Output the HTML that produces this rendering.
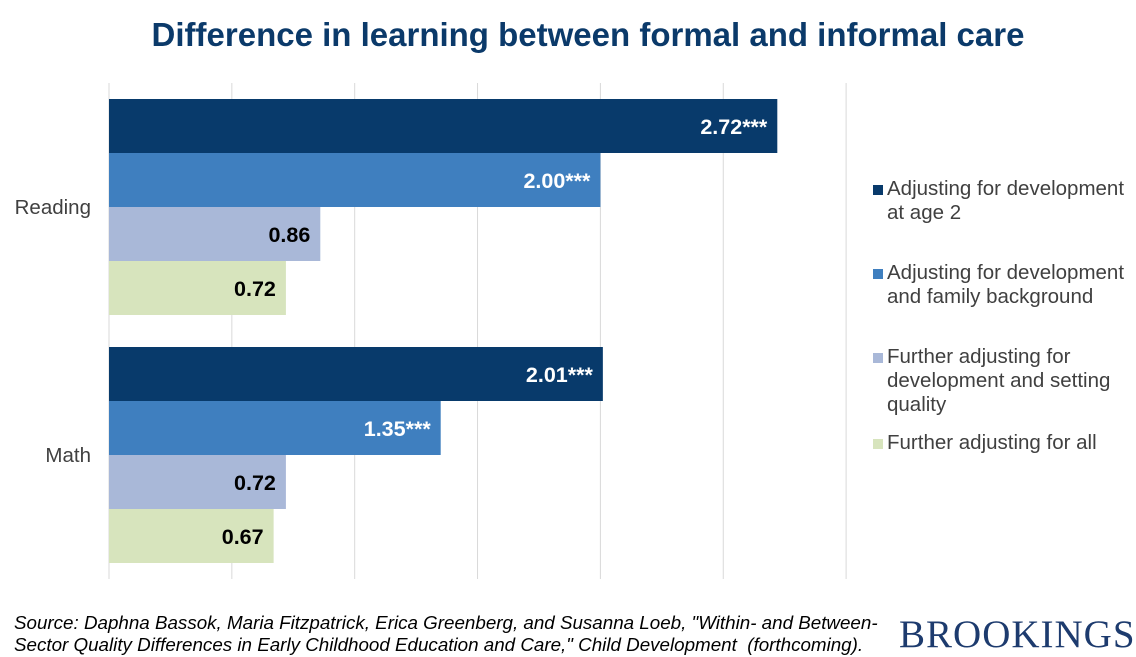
<!DOCTYPE html>
<html><head><meta charset="utf-8">
<style>
body{margin:0;width:1136px;height:656px;background:#fff;font-family:"Liberation Sans",Arial,sans-serif;overflow:hidden;position:relative}
#title{position:absolute;left:0;width:1176px;top:16px;text-align:center;font-size:33px;font-weight:bold;color:#0b3a6a}
.leg{position:absolute;left:873px;font-size:20.5px;color:#404040;line-height:24px;white-space:nowrap}
.leg span.sw{position:absolute;left:0;top:8px;width:10px;height:10px}
.leg div{margin-left:14px}
#source{position:absolute;left:14px;top:612px;font-size:18.8px;font-style:italic;color:#000;line-height:22px;white-space:nowrap}
#logo{position:absolute;left:899px;top:612px;font-family:"Liberation Serif",serif;font-size:39px;color:#1d3b6e;letter-spacing:1px}
</style></head><body>
<div id="title">Difference in learning between formal and informal care</div>
<svg id="chart" width="1136" height="656" style="position:absolute;left:0;top:0"></svg>
<div class="leg" style="top:177px"><span class="sw" style="background:#083a6b"></span><div>Adjusting for development<br>at age 2</div></div>
<div class="leg" style="top:261px"><span class="sw" style="background:#3f7fbf"></span><div>Adjusting for development<br>and family background</div></div>
<div class="leg" style="top:345px"><span class="sw" style="background:#a9b8d8"></span><div>Further adjusting for<br>development and setting<br>quality</div></div>
<div class="leg" style="top:431px"><span class="sw" style="background:#d7e4bd"></span><div>Further adjusting for all</div></div>
<div id="source">Source: Daphna Bassok, Maria Fitzpatrick, Erica Greenberg, and Susanna Loeb, "Within- and Between-<br>Sector Quality Differences in Early Childhood Education and Care," Child Development&nbsp; (forthcoming).</div>
<div id="logo">BROOKINGS</div>
<script>
const categories=["Reading","Math"];
const seriesAge2=[2.72,2.01];
const seriesFamily=[2.00,1.35];
const seriesQuality=[0.86,0.72];
const seriesAll=[0.72,0.67];
const labelsAge2=["2.72***","2.01***"];
const labelsFamily=["2.00***","1.35***"];
const labelsQuality=["0.86","0.72"];
const labelsAll=["0.72","0.67"];
const gridTicks=[0,0.5,1,1.5,2,2.5,3];
const NS="http://www.w3.org/2000/svg";
const svg=document.getElementById('chart');
const x0=109,pxPerUnit=245.7,plotTop=83,plotBottom=579,band=248,barH=54;
const xs=v=>x0+v*pxPerUnit;
function mk(t,a){const e=document.createElementNS(NS,t);for(const k in a)e.setAttribute(k,a[k]);svg.appendChild(e);return e;}
gridTicks.forEach(t=>{
 const l=mk('line',{x1:xs(t),x2:xs(t),y1:plotTop,y2:plotBottom,stroke:'#d9d9d9','stroke-width':1});
 
 
});
const series=[[seriesAge2,labelsAge2,'#083a6b','#fff','age2'],[seriesFamily,labelsFamily,'#3f7fbf','#fff','family'],[seriesQuality,labelsQuality,'#a9b8d8','#000','quality'],[seriesAll,labelsAll,'#d7e4bd','#000','all']];
categories.forEach((c,i)=>{
 const cy=plotTop+band*i+band/2;
 const lab=mk('text',{x:91,y:cy+7,'text-anchor':'end','font-size':20.5,fill:'#404040'});
 lab.textContent=c;
 
 
 series.forEach((s,j)=>{
  const y=cy-2*barH+j*barH;
  const r=mk('rect',{x:x0,y:y,width:xs(s[0][i])-x0,height:barH,fill:s[2]});
  
  
  const t=mk('text',{x:xs(s[0][i])-10,y:y+barH/2+8,'text-anchor':'end','font-size':21.5,'font-weight':'bold',fill:s[3]});
  t.textContent=s[1][i];
  
  
 });
});
</script>
</body></html>
